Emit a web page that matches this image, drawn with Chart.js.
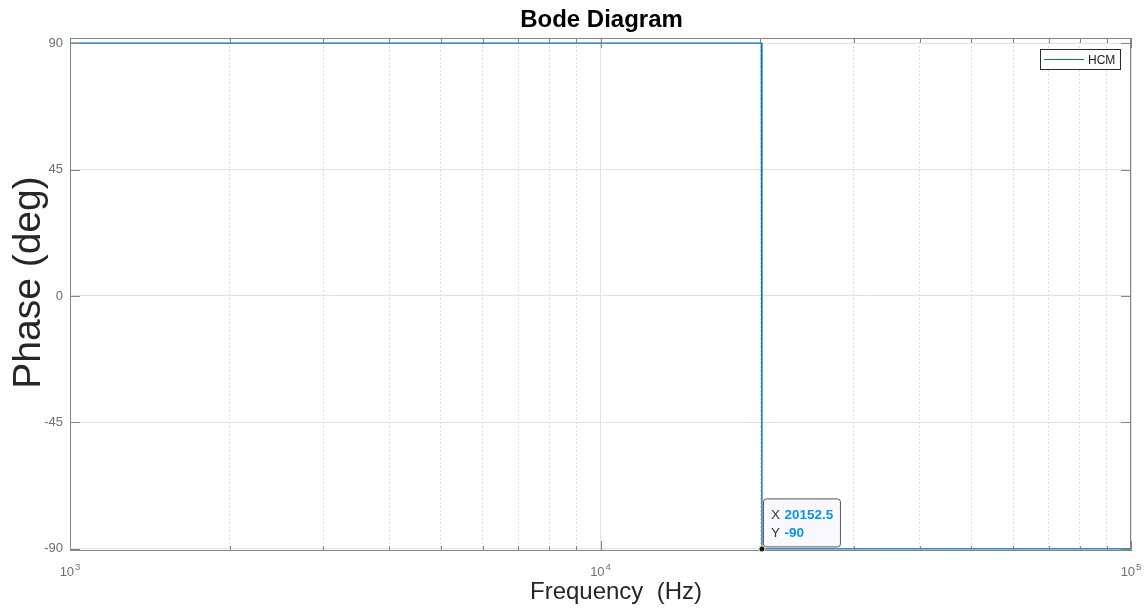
<!DOCTYPE html>
<html><head><meta charset="utf-8">
<script src="https://cdn.jsdelivr.net/npm/chart.js@4"></script>
<style>html,body{margin:0;padding:0;background:#fff}#wrap{width:1148px;height:609px;position:relative}</style>
</head><body><div id="wrap"><canvas id="c" width="1148" height="609"></canvas></div>
<script>
const chartTitle = 'Bode Diagram';
const xAxisTitle = 'Frequency  (Hz)';
const yAxisTitle = 'Phase (deg)';
const seriesName = 'HCM';
const freqHz = [1000, 20100, 20152.5, 100000];
const phaseDeg = [90, 90, -90, -90];
const yTickValues = [-90, -45, 0, 45, 90];
const xMajorTicks = [1000, 10000, 100000];
const xMajorExponents = ['3', '4', '5'];
const datatipX = 20152.5;
const datatipY = -90;
const datatipXLabel = '20152.5';
const datatipYLabel = '-90';

const FONT = '"Liberation Sans", Arial, Helvetica, sans-serif';

function allLogTicks() {
  const t = [];
  for (let d = 1000; d < 100000; d *= 10) {
    for (let m = 1; m < 10; m++) t.push({ value: d * m, major: m === 1 });
  }
  t.push({ value: 100000, major: true });
  return t;
}

const decor = {
  id: 'decor',
  afterDraw(chart) {
    const ctx = chart.ctx;
    const a = chart.chartArea;
    const xs = chart.scales.x, ys = chart.scales.y;
    ctx.save();
    // axis box
    ctx.strokeStyle = '#858585';
    ctx.lineWidth = 1;
    ctx.strokeRect(Math.round(a.left) + 0.5, Math.round(a.top) + 0.5, Math.round(a.right - a.left) - 1, Math.round(a.bottom - a.top) - 1);
    // inward ticks
    ctx.beginPath();
    yTickValues.forEach(v => {
      const py = Math.round(ys.getPixelForValue(v)) + 0.5;
      ctx.moveTo(a.left, py); ctx.lineTo(a.left + 10, py);
      ctx.moveTo(a.right, py); ctx.lineTo(a.right - 10, py);
    });
    allLogTicks().forEach(t => {
      const px = Math.round(xs.getPixelForValue(t.value)) + 0.5;
      const len = t.major ? 10 : 5;
      ctx.moveTo(px, a.bottom); ctx.lineTo(px, a.bottom - len);
      ctx.moveTo(px, a.top); ctx.lineTo(px, a.top + len);
    });
    ctx.stroke();
    // x tick labels 10^n
    ctx.fillStyle = '#6e6e6e';
    ctx.textBaseline = 'alphabetic';
    ctx.textAlign = 'left';
    xMajorTicks.forEach((v, i) => {
      const px = xs.getPixelForValue(v);
      ctx.font = '13px ' + FONT;
      const wb = ctx.measureText('10').width;
      ctx.font = '9.5px ' + FONT;
      const we = ctx.measureText(xMajorExponents[i]).width;
      const left = px - (wb + 1 + we) / 2;
      ctx.font = '13px ' + FONT;
      ctx.fillText('10', left, 576);
      ctx.font = '9.5px ' + FONT;
      ctx.fillText(xMajorExponents[i], left + wb + 1, 570);
    });
    // titles
    ctx.fillStyle = '#000';
    ctx.textAlign = 'center';
    ctx.font = 'bold 24px ' + FONT;
    ctx.fillText(chartTitle, 601.5, 27);
    ctx.fillStyle = '#262626';
    ctx.font = '24px ' + FONT;
    ctx.fillText(xAxisTitle, 616, 599);
    ctx.save();
    ctx.translate(40, 282.5);
    ctx.rotate(-Math.PI / 2);
    ctx.font = '39px ' + FONT;
    ctx.fillText(yAxisTitle, 0, 0);
    ctx.restore();
    // legend
    const lx = 1040.5, ly = 49.5, lw = 80, lh = 20;
    ctx.fillStyle = '#fff';
    ctx.fillRect(lx, ly, lw, lh);
    ctx.strokeStyle = '#2b2b2b';
    ctx.strokeRect(lx, ly, lw, lh);
    ctx.strokeStyle = '#0072BD';
    ctx.lineWidth = 1;
    ctx.beginPath(); ctx.moveTo(1044, 59.5); ctx.lineTo(1084, 59.5); ctx.stroke();
    ctx.fillStyle = '#1a1a1a';
    ctx.textAlign = 'left';
    ctx.font = '12px ' + FONT;
    ctx.fillText(seriesName, 1088, 64);
    // datatip
    const px = xs.getPixelForValue(datatipX);
    const py = ys.getPixelForValue(datatipY);
    const bx = px + 1.5, by = py - 50, bw = 77, bh = 48;
    ctx.beginPath();
    if (ctx.roundRect) ctx.roundRect(bx, by, bw, bh, 3); else ctx.rect(bx, by, bw, bh);
    ctx.fillStyle = '#f8f8fd';
    ctx.fill();
    ctx.strokeStyle = '#555';
    ctx.lineWidth = 1;
    ctx.stroke();
    ctx.font = '13.5px ' + FONT;
    ctx.fillStyle = '#333';
    ctx.fillText('X', bx + 7.5, by + 20.5);
    ctx.fillText('Y', bx + 7.5, by + 38.5);
    ctx.font = 'bold 13.5px ' + FONT;
    ctx.fillStyle = '#0a92f0';
    ctx.fillText(datatipXLabel, bx + 21, by + 20.5);
    ctx.fillText(datatipYLabel, bx + 21, by + 38.5);
    ctx.beginPath();
    ctx.arc(px, py, 3, 0, Math.PI * 2);
    ctx.fillStyle = '#111';
    ctx.fill();
    ctx.strokeStyle = '#e8e4b0';
    ctx.lineWidth = 1;
    ctx.stroke();
    ctx.restore();
  }
};

new Chart(document.getElementById('c'), {
  type: 'line',
  data: {
    datasets: [{
      label: seriesName,
      data: freqHz.map((f, i) => ({ x: f, y: phaseDeg[i] })),
      borderColor: '#0072BD',
      borderWidth: 1.3,
      pointRadius: 0,
      tension: 0,
      fill: false
    }]
  },
  options: {
    responsive: false,
    animation: false,
    devicePixelRatio: 1,
    layout: { padding: { top: 38, right: 17, left: 0, bottom: 0 } },
    plugins: { legend: { display: false }, title: { display: false }, tooltip: { enabled: false } },
    scales: {
      x: {
        type: 'logarithmic',
        min: 1000, max: 100000,
        afterBuildTicks: s => { s.ticks = allLogTicks().map(t => ({ value: t.value, major: t.major })); },
        afterFit: s => { s.height = 58; },
        ticks: { display: false },
        border: {
          display: false,
          dash: c => (c.tick && c.tick.major) ? [] : [1.5, 2.5]
        },
        grid: {
          drawTicks: false,
          color: c => (c.tick && c.tick.major) ? '#e2e2e2' : '#d2d2d2',
          lineWidth: 1
        }
      },
      y: {
        type: 'linear',
        min: -90.75, max: 91.8,
        afterBuildTicks: s => { s.ticks = yTickValues.map(v => ({ value: v })); },
        afterFit: s => { s.width = 70; },
        ticks: {
          color: '#6e6e6e',
          font: { family: FONT, size: 13 },
          padding: 7,
          callback: v => String(v)
        },
        border: { display: false },
        grid: { drawTicks: false, color: '#e2e2e2', lineWidth: 1 }
      }
    }
  },
  plugins: [decor]
});
</script></body></html>
